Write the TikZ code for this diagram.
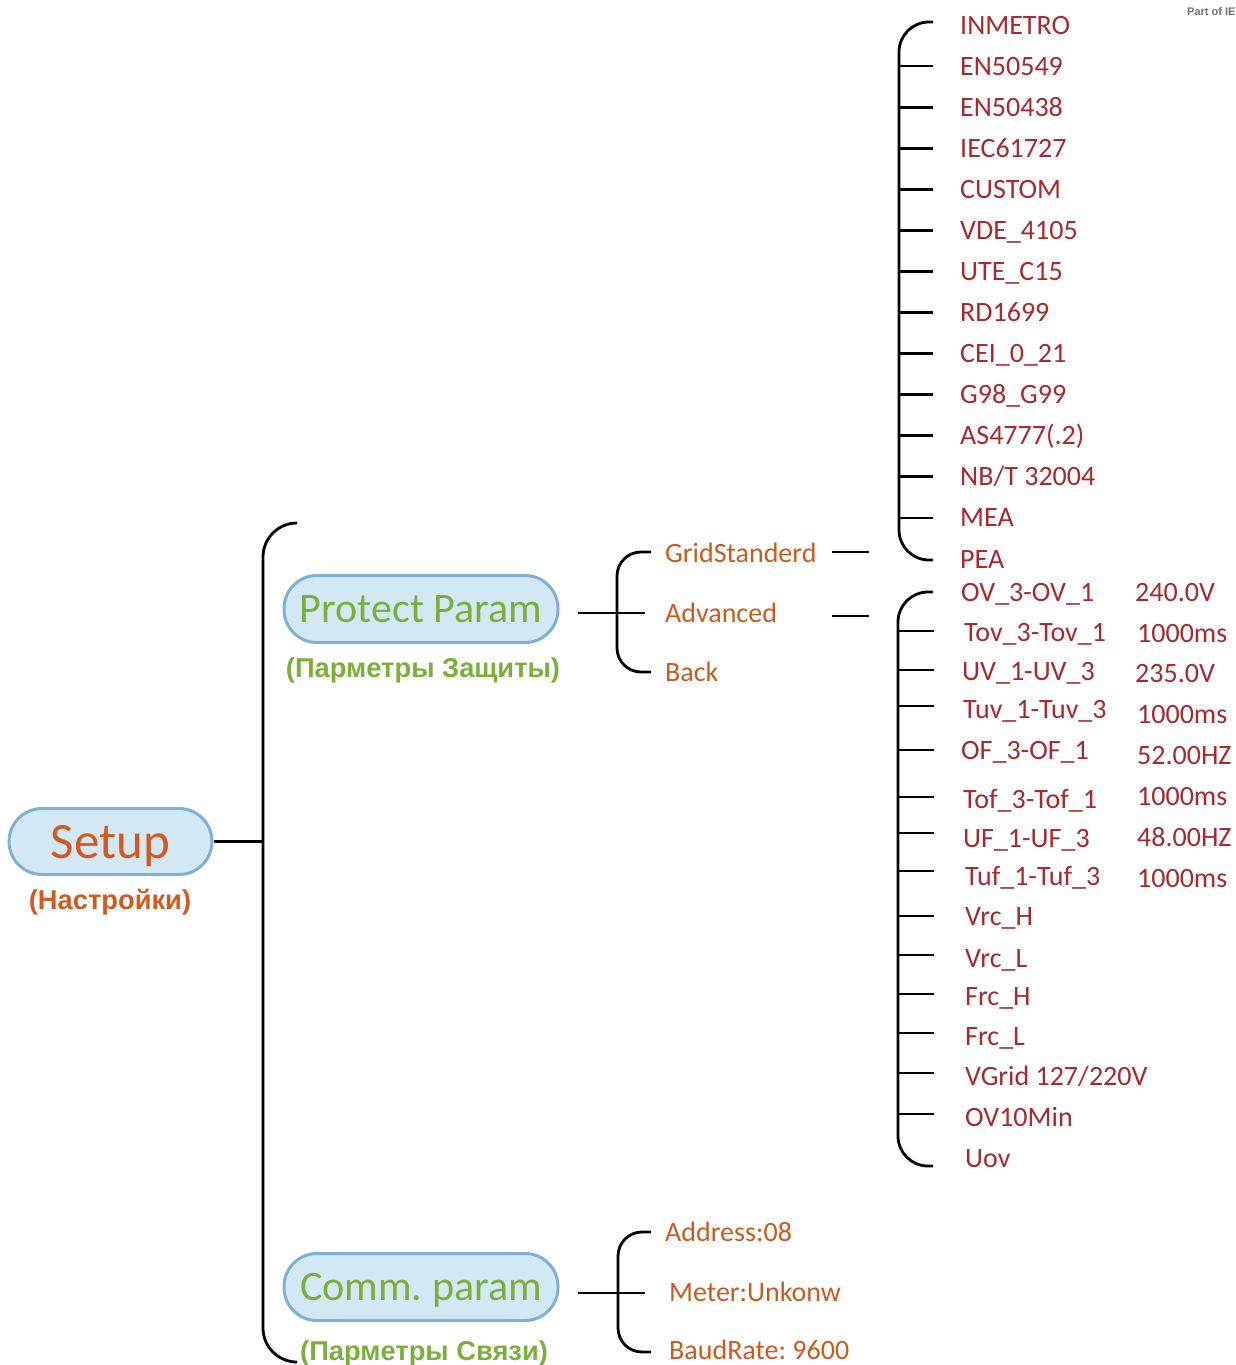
\documentclass[tikz,border=0pt]{standalone}
\usepackage{fontspec}
\setmainfont{Carlito}
\newfontfamily\labfont{Liberation Sans}
\definecolor{itemred}{HTML}{A8282E}
\definecolor{orng}{HTML}{CC5A1E}
\definecolor{setuporg}{HTML}{D4591F}
\definecolor{grn}{HTML}{7AAF3A}
\definecolor{nodefill}{HTML}{D3E8F5}
\definecolor{nodeborder}{HTML}{7FB1D7}
\definecolor{partgray}{HTML}{707070}
\frenchspacing
\begin{document}
\begin{tikzpicture}[x=1pt,y=-1pt,
  br/.style={line width=2.8pt, draw=black},
  itm/.style={anchor=base west, text=itemred, font=\fontsize{28}{30}\selectfont, inner sep=0pt},
  subitm/.style={anchor=base west, text=orng, font=\fontsize{28}{30}\selectfont, inner sep=0pt},
  pill/.style={draw=nodeborder, fill=nodefill, line width=3pt, inner sep=0pt, text depth=0pt},
  cyrlab/.style={anchor=base, inner sep=0pt, font=\labfont\bfseries\fontsize{27.3}{29}\selectfont}
]
\useasboundingbox (0,0) rectangle (1236,1365);

% corner mark
\node[anchor=west, inner sep=0pt, text=partgray, font=\labfont\bfseries\fontsize{11}{12}\selectfont] (part) at (1187,12) {Part of IE};

% main nodes
\node[pill, rounded corners=33pt, minimum width=203pt, minimum height=66pt, text=setuporg,
      font=\fontsize{51}{54}\selectfont, text height=33pt] (setup) at (110.5,841.5) {Setup};
\node[cyrlab, text=setuporg] (setupru) at (110,909) {(Настройки)};

\node[pill, rounded corners=33pt, minimum width=274pt, minimum height=67pt, text=grn,
      font=\fontsize{42}{45}\selectfont, text height=27pt] (protect) at (421,609) {Protect Param};
\node[cyrlab, text=grn] (protectru) at (423,677) {(Парметры Защиты)};

\node[pill, rounded corners=33pt, minimum width=274pt, minimum height=67pt, text=grn,
      font=\fontsize{42}{45}\selectfont, text height=27pt] (comm) at (421,1287) {Comm. param};
\node[cyrlab, text=grn] (commru) at (424,1360) {(Парметры Связи)};

% Setup -> big bracket
\coordinate (bigbr) at (263,841.5);
\draw[br] (setup.east) -- (bigbr);
\draw[br, rounded corners=34pt] (296,523) -- (263,523) -- (263,1362) -- (292,1362);

% Protect Param branch
\node[subitm] (grid) at (665,562) {GridStanderd};
\node[subitm] (adv) at (665,622) {Advanced};
\node[subitm] (back) at (665,681) {Back};
\draw[br] (578,613) -- (645,613);
\draw[br, rounded corners=24pt] (651,552) -- (617,552) -- (617,672) -- (651,672);
\coordinate (gridend) at (832,552);
\coordinate (advend) at (832,616);
\draw[br] (gridend) -- ++(37,0);
\draw[br] (advend) -- ++(37,0);

% Comm param branch
\node[subitm] (addr) at (665,1241) {Address:08};
\node[subitm] (meter) at (669,1301) {Meter:Unkonw};
\node[subitm, text depth=0pt] (baud) at (669,1359) {BaudRate: 9600};
\draw[br] (578,1293) -- (645,1293);
\draw[br, rounded corners=24pt] (651,1232) -- (618,1232) -- (618,1352) -- (651,1352);

% Grid standards list
\draw[br, rounded corners=30pt] (933,22) -- (899,22) -- (899,560) -- (933,560);
\foreach \t [count=\i] in {INMETRO,EN50549,EN50438,IEC61727,CUSTOM,VDE\_4105,UTE\_C15,RD1699,CEI\_0\_21,G98\_G99,AS4777(.2),NB/T 32004,MEA,PEA}{
  \pgfmathsetmacro{\yy}{25+41.08*(\i-1)}
  \node[itm] (g\i) at (960,\yy+9) {\t};
  \ifnum\i>1 \ifnum\i<14 \draw[br] (899,\yy) -- (933,\yy); \fi\fi
}

% Advanced list
\draw[br, rounded corners=30pt] (933,592) -- (898,592) -- (898,1166) -- (933,1166);
\foreach \x/\y/\t [count=\i] in {961/592/OV\_3-OV\_1, 964/632/Tov\_3-Tov\_1, 962/671/UV\_1-UV\_3, 963/709/Tuv\_1-Tuv\_3,
   961/750/OF\_3-OF\_1, 963/799/Tof\_3-Tof\_1, 963/838/UF\_1-UF\_3, 965/876/Tuf\_1-Tuf\_3, 965/916/Vrc\_H,
   965/958/Vrc\_L, 965/996/Frc\_H, 965/1036/Frc\_L, 965/1076/{VGrid 127/220V}, 965/1117/OV10Min, 965/1158/Uov}{
  \node[itm] (a\i) at (\x,\y+9) {\t};
}
\foreach \yy in {631,670,706,750,797,833,871,916,955,994,1033,1073,1114}{
  \draw[br] (898,\yy) -- (934,\yy);
}
\foreach \x/\y/\t [count=\i] in {1135/592/240.0V, 1137/633/1000ms, 1135/673/235.0V, 1137/714/1000ms,
   1137/755/52.00HZ, 1137/796/1000ms, 1137/837/48.00HZ, 1137/878/1000ms}{
  \node[itm] (v\i) at (\x,\y+9) {\t};
}
\end{tikzpicture}
\end{document}
